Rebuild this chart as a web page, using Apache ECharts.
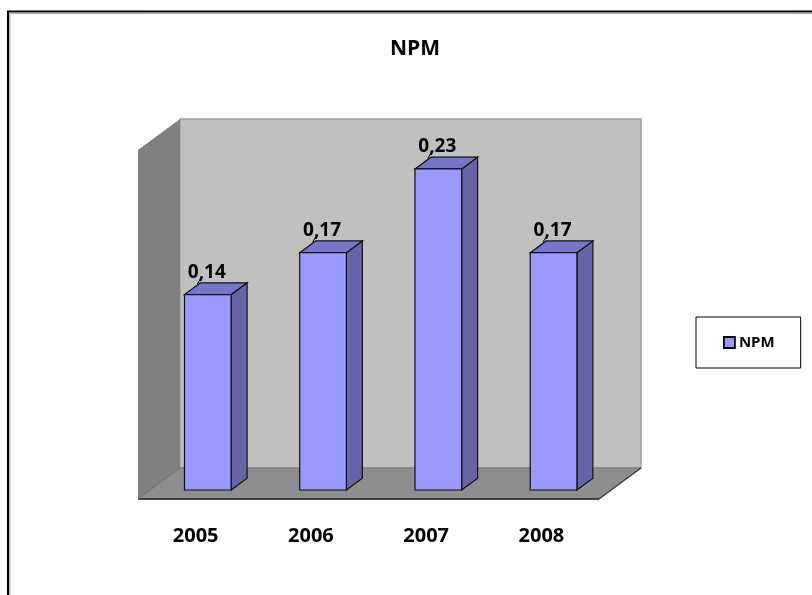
<!DOCTYPE html>
<html><head><meta charset="utf-8">
<script src="https://cdn.jsdelivr.net/npm/echarts@6/dist/echarts.min.js"></script>
<style>html,body{margin:0;padding:0;background:#fff}#c{width:812px;height:595px}</style>
</head><body><div id="c"></div>
<script>
// ---- data ----
const categories = ['2005', '2006', '2007', '2008'];
const npmValues = [0.14, 0.17, 0.23, 0.17];
const seriesName = 'NPM';
const titleText = 'NPM';
const yMin = 0, yMax = 0.25;

// ---- 3D look ----
const DEPTH = [42, -31];
const BAR_FRONT = 0.29;
const BAR_DEPTH = 0.38;
const BAR_WIDTH_RATIO = 0.405;
const FONT = '"Open Sans", "Liberation Sans", sans-serif';

function fmt(v) { return v.toFixed(2).replace('.', ','); }

const chart = echarts.init(document.getElementById('c'), null, { renderer: 'canvas' });

function renderWalls(params, api) {
  const cs = params.coordSys;
  const x0 = cs.x, y0 = cs.y, x1 = cs.x + cs.width, y1 = cs.y + cs.height;
  const dx = DEPTH[0], dy = DEPTH[1];
  return {
    type: 'group', children: [
      { type: 'rect', shape: { x: x0 + dx, y: y0 + dy, width: cs.width, height: cs.height },
        style: { fill: '#c0c0c0', stroke: '#a0a0a0', lineWidth: 1.5 } },
      { type: 'polygon', shape: { points: [[x0, y0], [x0 + dx, y0 + dy], [x0 + dx, y1 + dy], [x0, y1]] },
        style: { fill: '#808080' } },
      { type: 'polygon', shape: { points: [[x0, y1], [x0 + dx, y1 + dy], [x1 + dx, y1 + dy], [x1, y1]] },
        style: { fill: '#8e8e8e' } },
      { type: 'line', shape: { x1: x0 + dx, y1: y1 + dy, x2: x1 + dx, y2: y1 + dy },
        style: { stroke: '#777', lineWidth: 1 } },
      { type: 'line', shape: { x1: x0, y1: y1, x2: x1, y2: y1 },
        style: { stroke: '#1a1a1a', lineWidth: 1.5 } },
      { type: 'line', shape: { x1: x1, y1: y1, x2: x1 + dx, y2: y1 + dy },
        style: { stroke: '#333', lineWidth: 1.2 } },
      { type: 'line', shape: { x1: x0, y1: y1, x2: x0 + dx, y2: y1 + dy },
        style: { stroke: '#6a6a6a', lineWidth: 1 } }
    ]
  };
}

function renderBar(params, api) {
  const idx = api.value(0), v = api.value(1);
  const top = api.coord([idx, v]);
  const base = api.coord([idx, 0]);
  const band = api.size([1, 0])[0];
  const bw = band * BAR_WIDTH_RATIO;
  const ox = DEPTH[0] * BAR_FRONT, oy = DEPTH[1] * BAR_FRONT;
  const dx = DEPTH[0] * BAR_DEPTH, dy = DEPTH[1] * BAR_DEPTH;
  const cx = top[0] + ox;
  const xl = cx - bw / 2, xr = cx + bw / 2;
  const yt = top[1] + oy, yb = base[1] + oy;
  const lw = 1.2, sc = '#111';
  return {
    type: 'group', children: [
      { type: 'polygon', shape: { points: [[xr, yt], [xr + dx, yt + dy], [xr + dx, yb + dy], [xr, yb]] },
        style: { fill: '#6464a6', stroke: sc, lineWidth: lw } },
      { type: 'polygon', shape: { points: [[xl, yt], [xl + dx, yt + dy], [xr + dx, yt + dy], [xr, yt]] },
        style: { fill: '#7676c8', stroke: sc, lineWidth: lw } },
      { type: 'rect', shape: { x: xl, y: yt, width: bw, height: yb - yt },
        style: { fill: '#9999ff', stroke: sc, lineWidth: lw } },
      { type: 'line', shape: { x1: xl + dx * 0.8, y1: yt + dy * 0.9, x2: xl + dx * 0.8 + 4, y2: yt + dy - 5 },
        style: { stroke: '#000', lineWidth: 1 } },
      { type: 'text', style: { text: fmt(v), x: cx - 1, y: yt + dy - 1, align: 'center', verticalAlign: 'bottom',
        font: 'bold 19px ' + FONT, fill: '#000' } }
    ]
  };
}

chart.setOption({
  animation: false,
  backgroundColor: '#fff',
  title: {
    text: titleText, left: 390, top: 38, padding: 0,
    textStyle: { fontFamily: FONT, fontWeight: 'bold', fontSize: 21, color: '#000', lineHeight: 22 }
  },
  legend: {
    data: [{ name: seriesName, icon: 'rect', itemStyle: { color: '#9999ff', borderColor: '#000', borderWidth: 1.8 } }],
    left: 696, top: 317, orient: 'vertical', itemWidth: 11, itemHeight: 11, itemGap: 0,
    padding: [18, 26, 18, 27], borderColor: '#000', borderWidth: 1, backgroundColor: '#fff',
    selectedMode: false,
    textStyle: { fontFamily: FONT, fontWeight: 'bold', fontSize: 15, color: '#000', padding: [0, 0, 0, -1] }
  },
  grid: { left: 138, top: 150, width: 461, height: 349 },
  xAxis: {
    type: 'category', data: categories,
    axisLine: { show: false }, axisTick: { show: false }, splitLine: { show: false },
    axisLabel: { margin: 27, fontFamily: FONT, fontWeight: 'bold', fontSize: 20, color: '#000', lineHeight: 20 }
  },
  yAxis: { type: 'value', min: yMin, max: yMax, show: false },
  graphic: [
    { type: 'rect', shape: { x: 8, y: 11.5, width: 900, height: 700 }, style: { fill: 'none', stroke: '#000', lineWidth: 2 }, z: 100 },
    { type: 'polyline', shape: { points: [[9.8, 700], [9.8, 13.3], [900, 13.3]] }, style: { stroke: '#9a9a9a', lineWidth: 1, fill: 'none' }, z: 100 }
  ],
  series: [
    { type: 'custom', name: 'walls', coordinateSystem: 'cartesian2d', data: [[0, 0]], renderItem: renderWalls, z: 1, silent: true, clip: false },
    { type: 'custom', name: seriesName, coordinateSystem: 'cartesian2d',
      data: npmValues.map((v, i) => [i, v]), encode: { x: 0, y: 1 },
      itemStyle: { color: '#9999ff' }, renderItem: renderBar, z: 2, clip: false }
  ]
});
</script>
</body></html>
